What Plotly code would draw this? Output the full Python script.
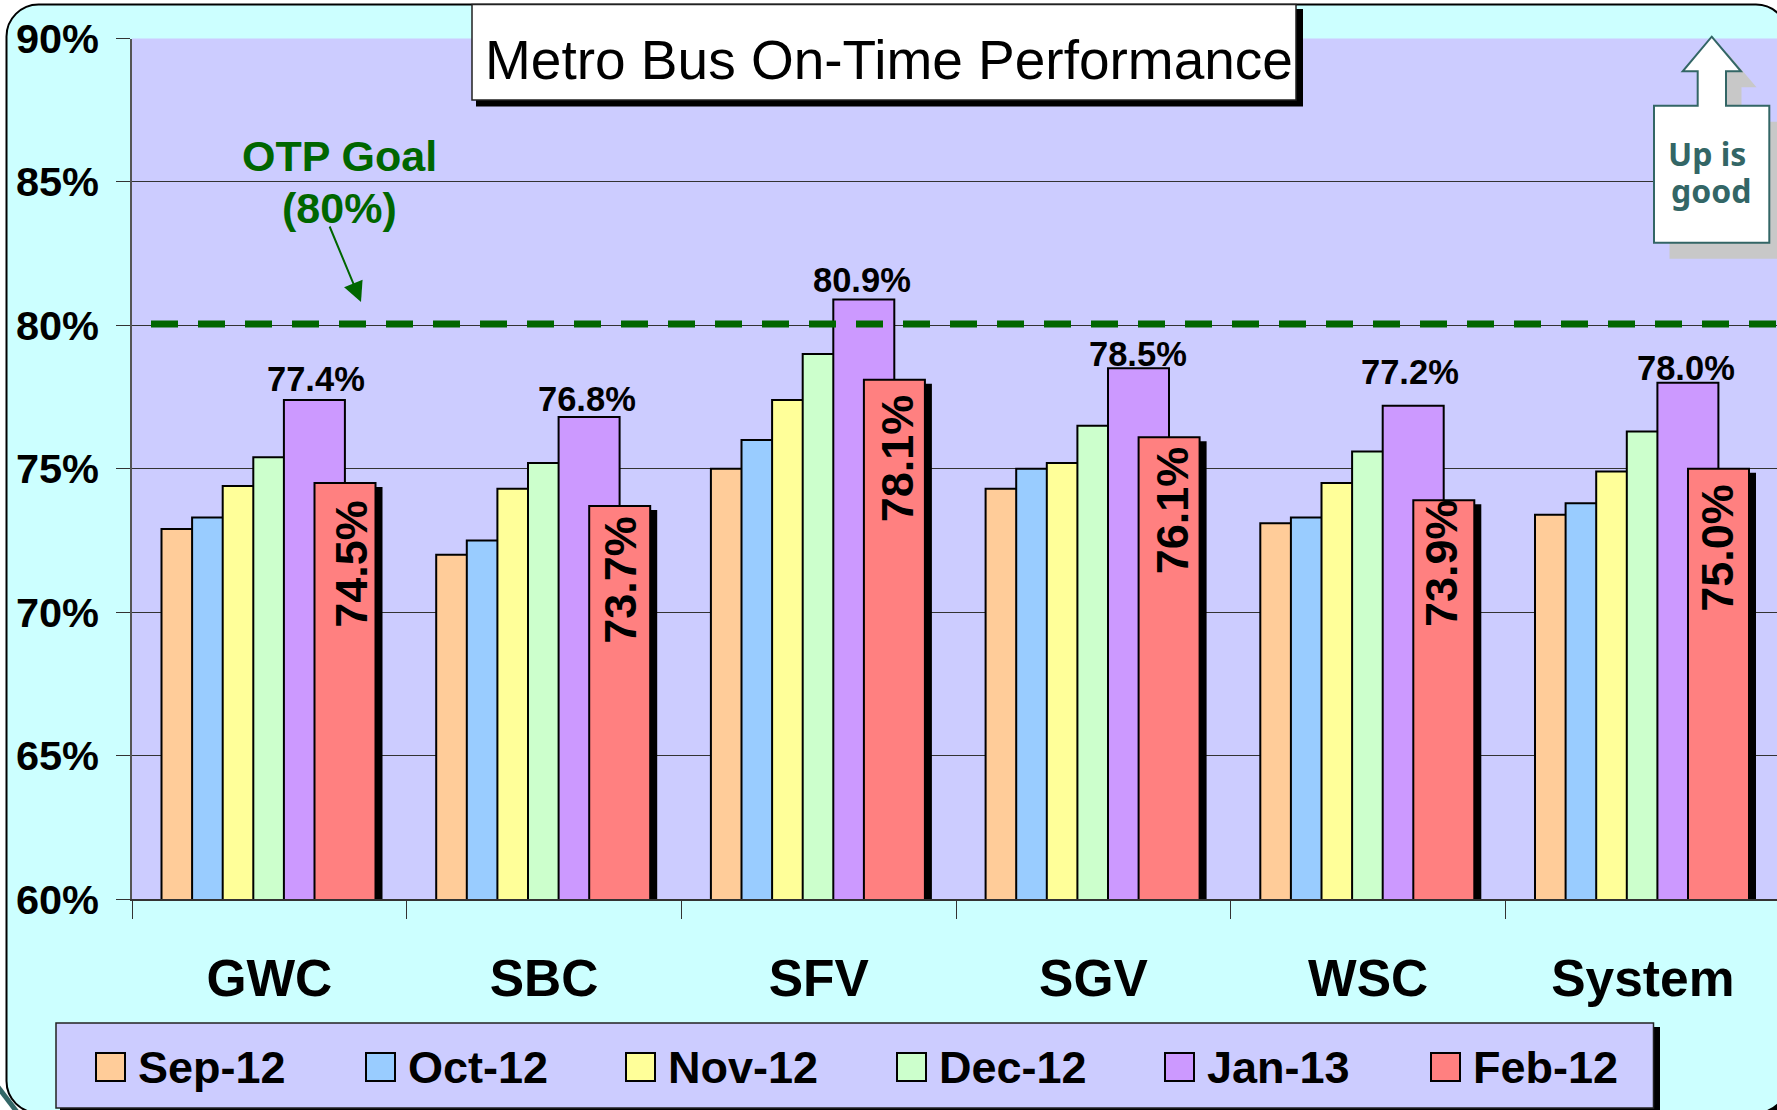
import plotly.graph_objects as go

W, H = 1777, 1110
categories = ["GWC", "SBC", "SFV", "SGV", "WSC", "System"]
sep_12 = [72.9, 72.0, 75.0, 74.3, 73.1, 73.4]
oct_12 = [73.3, 72.5, 76.0, 75.0, 73.3, 73.8]
nov_12 = [74.4, 74.3, 77.4, 75.2, 74.5, 74.9]
dec_12 = [75.4, 75.2, 79.0, 76.5, 75.6, 76.3]
jan_13 = [77.4, 76.8, 80.9, 78.5, 77.2, 78.0]
feb_12 = [74.5, 73.7, 78.1, 76.1, 73.9, 75.0]
series_names = ["Sep-12", "Oct-12", "Nov-12", "Dec-12", "Jan-13", "Feb-12"]
y_ticks = [60, 65, 70, 75, 80, 85, 90]
goal = 80

series_values = [sep_12, oct_12, nov_12, dec_12, jan_13, feb_12]
colors = ["#FFCC99", "#99CCFF", "#FFFF99", "#CCFFCC", "#CC99FF", "#FF8080"]

PLOT_L, PLOT_T, PLOT_B = 132, 38.5, 899
CAT_W = 274.7
STEP_PX = 30.6
BAR_PX = 61
FIRST_PX = -107.85
PX_PER_UNIT = (PLOT_B - PLOT_T) / 30


def px(x):
    return x / W


def py(y):
    return 1 - y / H


def p_path(points):
    return "M" + " L".join(f"{px(x):.5f},{py(y):.5f}" for x, y in points) + " Z"


def rounded(l, t, r, b, rad):
    k = rad * 0.45
    segs = [
        f"M{px(l + rad):.5f},{py(t):.5f}", f"L{px(r - rad):.5f},{py(t):.5f}",
        f"C{px(r - k):.5f},{py(t):.5f} {px(r):.5f},{py(t + k):.5f} {px(r):.5f},{py(t + rad):.5f}",
        f"L{px(r):.5f},{py(b - rad):.5f}",
        f"C{px(r):.5f},{py(b - k):.5f} {px(r - k):.5f},{py(b):.5f} {px(r - rad):.5f},{py(b):.5f}",
        f"L{px(l + rad):.5f},{py(b):.5f}",
        f"C{px(l + k):.5f},{py(b):.5f} {px(l):.5f},{py(b - k):.5f} {px(l):.5f},{py(b - rad):.5f}",
        f"L{px(l):.5f},{py(t + rad):.5f}",
        f"C{px(l):.5f},{py(t + k):.5f} {px(l + k):.5f},{py(t):.5f} {px(l + rad):.5f},{py(t):.5f} Z",
    ]
    return " ".join(segs)


def box(l, t, r, b, fill, line=None, width=1, layer="above"):
    return dict(type="rect", xref="paper", yref="paper", x0=px(l), x1=px(r), y0=py(b), y1=py(t),
                fillcolor=fill, line=dict(color=line or fill, width=width if line else 0), layer=layer)


FONT = "Liberation Sans, Arial, sans-serif"
fig = go.Figure()

for i, (name, vals, col) in enumerate(zip(series_names, series_values, colors)):
    off = (FIRST_PX + i * STEP_PX) / CAT_W
    if i == 5:
        fig.add_trace(go.Bar(x=categories, y=[v - 4 / PX_PER_UNIT for v in vals], name="shadow",
                             offset=off + 7 / CAT_W, width=BAR_PX / CAT_W, showlegend=False,
                             marker=dict(color="black", line=dict(width=0)), hoverinfo="skip"))
    fig.add_trace(go.Bar(x=categories, y=vals, name=name, offset=off, width=BAR_PX / CAT_W,
                         showlegend=False, marker=dict(color=col, line=dict(color="black", width=2))))

shapes = [
    dict(type="path", xref="paper", yref="paper", path=p_path([(1762, 1112), (1790, 1112), (1790, 1098)]),
         fillcolor="black", line=dict(width=0), layer="below"),
    dict(type="path", xref="paper", yref="paper", path=rounded(6.5, 4.5, 1788, 1113, 32),
         fillcolor="#CCFFFF", line=dict(color="black", width=2), layer="below"),
    box(PLOT_L, PLOT_T, W + 5, PLOT_B, "#CCCCFF", layer="below"),
    dict(type="line", xref="paper", yref="paper", x0=px(-2), x1=px(17), y0=py(1087), y1=py(1112),
         line=dict(color="#336666", width=5), layer="below"),
    dict(type="line", xref="paper", yref="y", x0=px(151), x1=px(W + 5), y0=goal + 0.05, y1=goal + 0.05,
         line=dict(color="#006600", width=7, dash="27px,20px"), layer="above"),
    # title box
    box(476, 9, 1303, 106.5, "black"),
    box(472, 4.5, 1296, 100, "white", "#222222", 1.5),
    # legend box
    box(60, 1027, 1660, 1113, "black"),
    box(56, 1023, 1653.5, 1108, "#CCCCFF", "#222222", 1.5),
]

arrow_pts = [(1711.7, 36.7), (1741, 71.3), (1726, 71.3), (1726, 105.7), (1769.3, 105.7), (1769.3, 242.7),
             (1654, 242.7), (1654, 105.7), (1697.7, 105.7), (1697.7, 71.3), (1682.7, 71.3)]
shapes.append(dict(type="path", xref="paper", yref="paper",
                   path=p_path([(x + 15.5, y + 16) for x, y in arrow_pts]),
                   fillcolor="#C8C8C8", line=dict(width=0), layer="above"))
shapes.append(dict(type="path", xref="paper", yref="paper", path=p_path(arrow_pts),
                   fillcolor="white", line=dict(color="#336666", width=2), layer="above"))

annotations = []


def note(text, x, y, size, color="black", bold=True, family=FONT):
    annotations.append(dict(text=f"<b>{text}</b>" if bold else text, xref="paper", yref="paper",
                            x=px(x), y=py(y), xanchor="center", yanchor="middle", showarrow=False,
                            font=dict(size=size, color=color, family=family), align="center"))


# data labels
jan_dx = [2, -2, -2, -1, -3, -2]
jan_dy = [21, 18, 20, 14.5, 34, 15]
feb_dx = [7, 0, 2.5, 3, -3, -1]
feb_dy = [80.7, 74, 78.5, 73, 63, 79.5]
for k in range(len(categories)):
    annotations.append(dict(text=f"<b>{jan_13[k]:.1f}%</b>", x=k + (FIRST_PX + 4 * STEP_PX + BAR_PX / 2) / CAT_W,
                            y=jan_13[k], xref="x", yref="y", showarrow=False, xanchor="center", yanchor="middle",
                            xshift=jan_dx[k], yshift=jan_dy[k], font=dict(size=34.5, color="black", family=FONT)))
    annotations.append(dict(text=f"<b>{feb_12[k]:.1f}%</b>", x=k + (FIRST_PX + 5 * STEP_PX + BAR_PX / 2) / CAT_W,
                            y=feb_12[k], xref="x", yref="y", showarrow=False, xanchor="center", yanchor="middle",
                            textangle=-90, xshift=feb_dx[k], yshift=-feb_dy[k],
                            font=dict(size=45, color="black", family=FONT)))

note("Metro Bus On-Time Performance", 889, 60, 55, bold=False)
note("OTP Goal", 339.5, 156, 43, color="#006600")
note("(80%)", 339.5, 208, 43, color="#006600")
UP_FONT = "Noto Sans, Open Sans, sans-serif"
note("Up is", 1707, 153, 32, color="#336666", family=UP_FONT)
note("good", 1711, 190, 32, color="#336666", family=UP_FONT)

annotations.append(dict(text="", xref="paper", yref="paper", x=px(361), y=py(302), ax=-32, ay=-77,
                        axref="pixel", ayref="pixel", showarrow=True, arrowhead=2, arrowsize=2, arrowwidth=2,
                        arrowcolor="#006600"))

# legend
legend_x = [96, 366, 626, 897, 1165, 1431]
for x, name, col in zip(legend_x, series_names, colors):
    shapes.append(box(x, 1053, x + 29, 1081, col, "black", 2))
    annotations.append(dict(text=f"<b>{name}</b>", xref="paper", yref="paper", x=px(x + 40), y=py(1067),
                            xanchor="left", yanchor="middle", showarrow=False,
                            font=dict(size=45, color="black", family=FONT)))

fig.update_layout(
    width=W, height=H, autosize=False,
    margin=dict(l=0, r=0, t=0, b=0, pad=0),
    paper_bgcolor="white", plot_bgcolor="rgba(0,0,0,0)",
    barmode="overlay", showlegend=False, shapes=shapes, annotations=annotations,
    xaxis=dict(domain=[px(PLOT_L), 1], type="category", categoryorder="array", categoryarray=categories,
               range=[-0.5, -0.5 + (W - PLOT_L) / CAT_W], tickson="boundaries", ticks="outside", ticklen=18,
               tickcolor="#333333", tickwidth=1, showline=True, linecolor="#333333", linewidth=1.5,
               showgrid=False, ticklabelstandoff=33, automargin=False,
               tickfont=dict(size=51.5, color="black", family=FONT, weight="bold")),
    yaxis=dict(domain=[py(PLOT_B), py(PLOT_T)], range=[60, 90], tickmode="array", tickvals=y_ticks,
               ticktext=[f"{v}%" for v in y_ticks], ticks="outside", ticklen=14, tickcolor="#333333", tickwidth=1,
               showline=True, linecolor="#555555", linewidth=1.5, showgrid=True, gridcolor="#333333", gridwidth=1,
               zeroline=False, ticklabelstandoff=9, automargin=False, mirror=False,
               tickfont=dict(size=41.5, color="black", family=FONT, weight="bold")),
)
fig.write_html("out.html", config=dict(displayModeBar=False),
               post_script="document.body.style.margin='0';document.body.style.overflow='hidden';")
